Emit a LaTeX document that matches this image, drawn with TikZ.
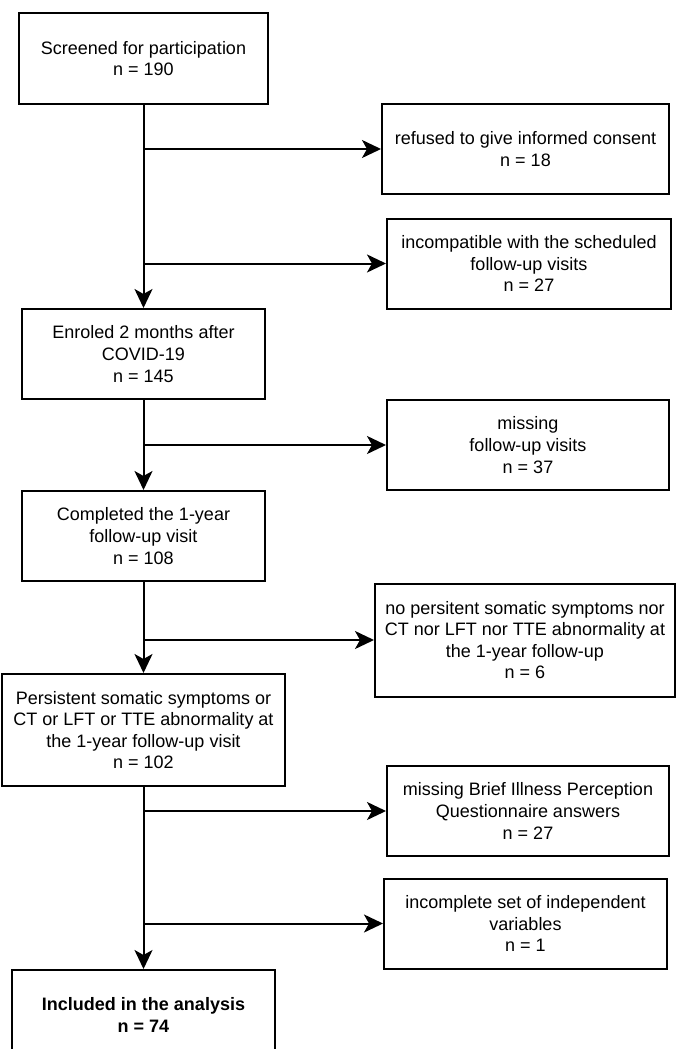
\documentclass[tikz,border=0pt]{standalone}
\usepackage{fontspec}
\setmainfont{Liberation Sans}
\usepackage{tikz}
\usetikzlibrary{positioning}
\usetikzlibrary{arrows.meta}

\begin{document}
\begin{tikzpicture}[box/.style={draw, line width=2pt, align=center, font=\fontsize{18}{21.6}\selectfont}, arr/.style={line width=2pt, -{Stealth[length=19pt, width=18pt, inset=5pt]}}]
    \useasboundingbox [fill=white] (0,0) rectangle (675pt,-1049pt);

    \node [box, minimum width=249pt, minimum height=91pt] (a) at (143.5pt,-58.5pt) {Screened for participation\\n = 190};
    \node [box, below=203pt of a, minimum width=243pt, minimum height=90pt] (b) {Enroled 2 months after\\COVID-19\\n = 145};
    \node [box, below=90pt of b, minimum width=243pt, minimum height=90pt] (c) {Completed the 1-year\\follow-up visit\\n = 108};
    \node [box, below=91pt of c, minimum width=283pt, minimum height=112pt] (d) {Persistent somatic symptoms or\\CT or LFT or TTE abnormality at\\the 1-year follow-up visit\\n = 102};
    \node [box, below=182pt of d, minimum width=263pt, minimum height=90pt] (e) {\textbf{Included in the analysis}\\\textbf{n = 74}};

    \coordinate [below=44pt of a] (k1);
    \coordinate [above=44.5pt of b] (k2);
    \coordinate [below=45pt of b] (k3);
    \coordinate [below=58pt of c] (k4);
    \coordinate [below=24pt of d] (k5);
    \coordinate [above=45.5pt of e] (k6);

    \node [box, right=237.5pt of k1, minimum width=287pt, minimum height=90pt] (r1) {refused to give informed consent\\n = 18};
    \node [box, right=242.5pt of k2, minimum width=284pt, minimum height=90pt] (r2) {incompatible with the scheduled\\follow-up visits\\n = 27};
    \node [box, right=242.5pt of k3, minimum width=282pt, minimum height=90pt] (r3) {missing\\follow-up visits\\n = 37};
    \node [box, right=230.5pt of k4, minimum width=300pt, minimum height=113pt] (r4) {no persitent somatic symptoms nor\\CT nor LFT nor TTE abnormality at\\the 1-year follow-up\\n = 6};
    \node [box, right=242.5pt of k5, minimum width=282pt, minimum height=90pt] (r5) {missing Brief Illness Perception\\Questionnaire answers\\n = 27};
    \node [box, right=239.5pt of k6, minimum width=283pt, minimum height=90pt] (r6) {incomplete set of independent\\variables\\n = 1};

    \draw [arr] (a) -- (b);
    \draw [arr] (b) -- (c);
    \draw [arr] (c) -- (d);
    \draw [arr] (d) -- (e);
    \draw [arr] (k1) -- (r1);
    \draw [arr] (k2) -- (r2);
    \draw [arr] (k3) -- (r3);
    \draw [arr] (k4) -- (r4);
    \draw [arr] (k5) -- (r5);
    \draw [arr] (k6) -- (r6);
\end{tikzpicture}
\end{document}
